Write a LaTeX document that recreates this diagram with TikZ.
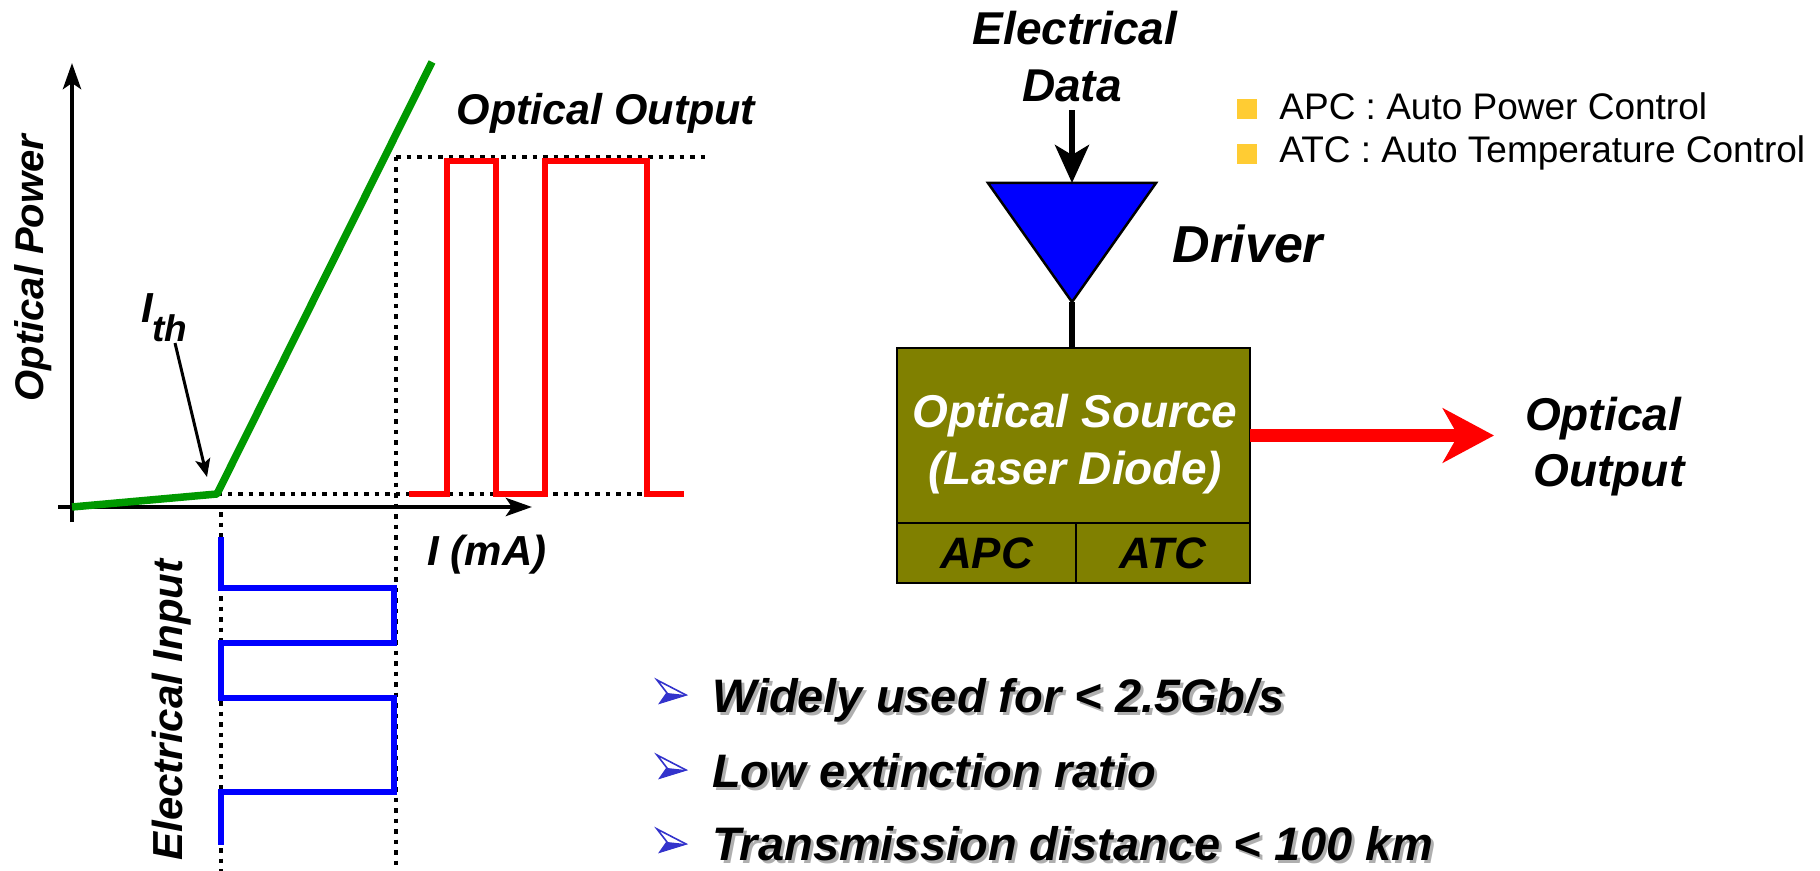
\documentclass[tikz,border=0pt]{standalone}
\usepackage{fontspec}
\setmainfont{Liberation Sans}
\usetikzlibrary{arrows.meta}
\definecolor{olivebox}{RGB}{128,128,0}
\definecolor{legendgold}{RGB}{255,204,51}
\definecolor{curvegreen}{RGB}{0,153,0}
\definecolor{bulletblue}{RGB}{51,51,204}
\definecolor{shadowgray}{RGB}{175,175,175}
\newcommand{\fsz}[2]{\fontsize{#1}{#2}\selectfont}
\tikzset{
  lbl/.style={inner sep=0pt, outer sep=0pt, font=\fsz{#1}{#1}\bfseries\itshape},
  axisline/.style={line width=2.25pt, -{Stealth[length=13pt,width=9pt,inset=3pt]}},
  dotline/.style={line width=2.25pt, dash pattern=on 2.25pt off 3pt},
  curve/.style={line width=3.75pt, draw=curvegreen, line join=round},
  redpulse/.style={line width=3.25pt, draw=red, line join=miter},
  bluepulse/.style={line width=3.25pt, draw=blue, line join=miter},
  thinarrow/.style={line width=1.5pt, -{Stealth[length=9pt,width=7.5pt,inset=2pt]}},
  dataarrow/.style={line width=3pt, -{Stealth[length=19pt,width=17pt,inset=5pt]}},
  wire/.style={line width=3pt},
  redarrow/.style={line width=6.5pt, draw=red, -{Stealth[length=25.5pt,width=27pt,inset=7.5pt]}},
  srcbox/.style={draw=black, line width=1.25pt, fill=olivebox, minimum width=176.5pt,
    minimum height=87.5pt, inner sep=0pt, outer sep=0pt},
  srctext/.style={inner sep=0pt, text=white, align=center,
    font=\fsz{23}{28.5}\bfseries\itshape},
  subbox/.style={draw=black, line width=1.25pt, fill=olivebox, minimum height=30pt,
    inner sep=0pt, outer sep=0pt, font=\fsz{22}{22}\bfseries\itshape},
  legsq/.style={fill=legendgold, minimum size=10pt, inner sep=0pt, draw=none},
  legtext/.style={anchor=base west, inner sep=0pt, font=\fsz{18.5}{18.5}},
  pics/bulletpic/.style={code={
    \fill[white] (0,-12) -- (29,3) -- (10,1) -- cycle;
    \fill[bulletblue] (10,1) -- (29,3) -- (3,11) -- cycle;
    \draw[bulletblue, line width=0.8pt, line join=miter] (0,-12) -- (29,3) -- (3,11) -- (10,1) -- cycle;
  }}
}
\begin{document}
\begin{tikzpicture}[x=0.5pt,y=-0.5pt]
\useasboundingbox (0,0) rectangle (1820,871);

% ---------- left graph ----------
\coordinate (O) at (72,507);
\coordinate (ytip) at (72,63);
\coordinate (ybot) at (72,522);
\coordinate (xleft) at (58,507);
\coordinate (xtip) at (532,507);
\coordinate (knee) at (217,494);
\coordinate (gtop) at (432,62);

% dotted guide lines
\draw[dotline] (knee) -- (684,494);
\draw[dotline] (396,157) -- (709,157);
\draw[dotline] (396,157) -- (396,871);
\draw[dotline] (221,512) -- (221,871);

% axes
\draw[axisline] (ybot) -- (ytip);
\draw[axisline] (xleft) -- (xtip);

% L-I curve
\draw[curve] (O) -- (knee) -- (gtop);

% optical output pulses
\draw[redpulse] (409,494) -- (447,494) -- (447,161) -- (496,161) -- (496,494)
  -- (545,494) -- (545,161) -- (647,161) -- (647,494) -- (684,494);

% electrical input pulses
\draw[bluepulse] (221,537) -- (221,588) -- (394,588) -- (394,643) -- (221,643)
  -- (221,698) -- (394,698) -- (394,792) -- (221,792) -- (221,845);

% labels
\node[lbl=20, rotate=90, anchor=base] (ypow) at (43,268) {Optical Power};
\node[lbl=21, anchor=base west] (ith) at (141,323) {I\raisebox{-9.5pt}{\fsz{18.5}{18.5}th}};
\coordinate (ithS) at (175,343);
\coordinate (ithE) at (207,477);
\draw[thinarrow] (ithS) -- (ithE);
\node[lbl=21.5, anchor=base] (optout) at (606,125) {Optical Output};
\node[lbl=21, anchor=base] (ima) at (487,565) {I (mA)};
\node[lbl=21, rotate=90, anchor=base] (einput) at (182,710) {Electrical Input};

% ---------- right block diagram ----------
\node[lbl=23, anchor=base] (elec) at (1075,45) {Electrical};
\node[lbl=23, anchor=base] (data) at (1072,102) {Data};
\coordinate (drvtop) at (1072,183);
\coordinate (drvL) at (988,183);
\coordinate (drvR) at (1156,183);
\coordinate (drvtip) at (1072,302);
\draw[fill=blue, draw=black, line width=1.25pt, line join=miter] (drvL) -- (drvR) -- (drvtip) -- cycle;
\draw[dataarrow, shorten <=4pt] (data.south) -- (drvtop);
\node[lbl=26, anchor=base] (driver) at (1248,263) {Driver};

\node[srcbox] (src) at (1073.5,435.5) {};
\node[srctext] (srclabel) at (1075,444) {Optical Source\\(Laser Diode)};
\draw[wire] (drvtip) -- (drvtip |- src.north);
\node[subbox, anchor=north west, minimum width=89.5pt] (apc) at (src.south west) {APC};
\node[subbox, anchor=north east, minimum width=87pt] (atc) at (src.south east) {ATC};

\coordinate (outtip) at (1494,435.5);
\draw[redarrow] (src.east) -- (outtip);
\node[lbl=23, anchor=base] (oo1) at (1603,430) {Optical};
\node[lbl=23, anchor=base] (oo2) at (1609,487) {Output};

% legend
\node[legsq] (sq1) at (1247,109.5) {};
\node[legtext] (leg1) at (1279,120) {APC : Auto Power Control};
\node[legsq] (sq2) at (1247,154.5) {};
\node[legtext] (leg2) at (1279,163) {ATC : Auto Temperature Control};

% bullets
\pic at (657,692) {bulletpic};
\pic at (657,767) {bulletpic};
\pic at (657,841) {bulletpic};
\node[lbl=23.5, anchor=base west, text=shadowgray] at (715,715) {Widely used for < 2.5Gb/s};
\node[lbl=23.5, anchor=base west] (b1) at (712,712) {Widely used for < 2.5Gb/s};
\node[lbl=23.5, anchor=base west, text=shadowgray] at (715,790) {Low extinction ratio};
\node[lbl=23.5, anchor=base west] (b2) at (712,787) {Low extinction ratio};
\node[lbl=23.5, anchor=base west, text=shadowgray] at (715,863) {Transmission distance < 100 km};
\node[lbl=23.5, anchor=base west] (b3) at (712,860) {Transmission distance < 100 km};
\end{tikzpicture}
\end{document}
